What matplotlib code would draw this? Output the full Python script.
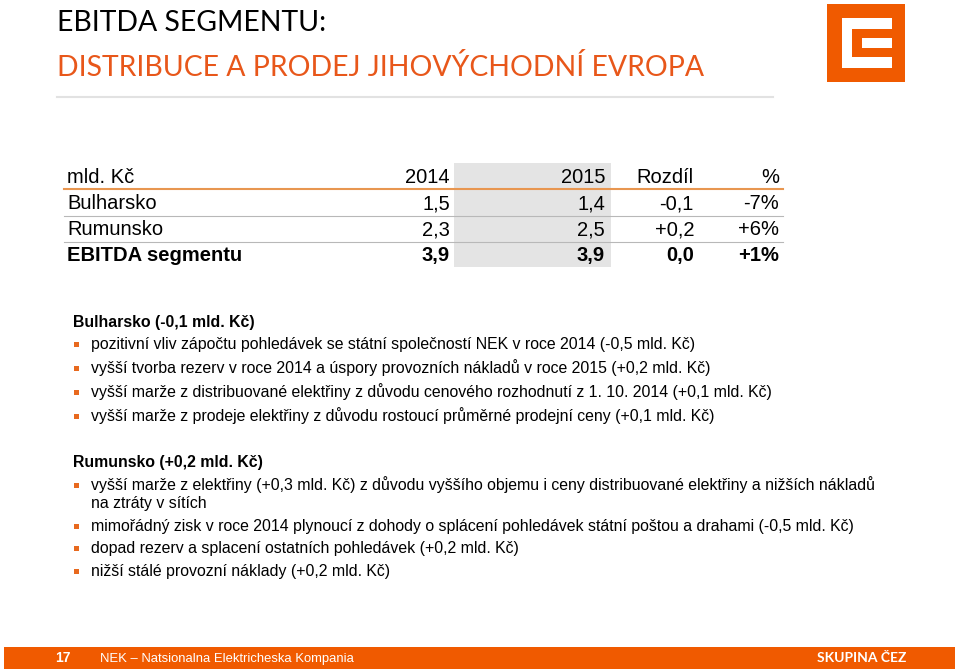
import matplotlib
matplotlib.use("Agg")
import matplotlib.pyplot as plt
from matplotlib.patches import Rectangle

# ── Colors ───────────────────────────────────────────────────────────────────
C_ORANGE      = "#f05a00"
C_TITLE_OR    = "#e8571a"
C_BULLET      = "#e8691e"
C_TABLE_LINE  = "#e89650"
C_SHADE       = "#e4e4e4"
C_ROWLINE     = "#b8b8b8"
C_RULE        = "#e2e2e2"
C_TEXT        = "#000000"

BODY = ["Liberation Sans", "DejaVu Sans"]
TITLE = ["Lato", "DejaVu Sans"]

# ── Data ─────────────────────────────────────────────────────────────────────
header = ["mld. Kč", "2014", "2015", "Rozdíl", "%"]
row_labels = ["Bulharsko", "Rumunsko", "EBITDA segmentu"]
vals_2014 = ["1,5", "2,3", "3,9"]
vals_2015 = ["1,4", "2,5", "3,9"]
diff = ["-0,1", "+0,2", "0,0"]
pct = ["-7%", "+6%", "+1%"]

bg_head = "Bulharsko (-0,1 mld. Kč)"
bg_items = [
    "pozitivní vliv zápočtu pohledávek se státní společností NEK v roce 2014 (-0,5 mld. Kč)",
    "vyšší tvorba rezerv v roce 2014 a úspory provozních nákladů v roce 2015 (+0,2 mld. Kč)",
    "vyšší marže z distribuované elektřiny z důvodu cenového rozhodnutí z 1. 10. 2014 (+0,1 mld. Kč)",
    "vyšší marže z prodeje elektřiny z důvodu rostoucí průměrné prodejní ceny (+0,1 mld. Kč)",
]
ro_head = "Rumunsko (+0,2 mld. Kč)"
ro_items = [
    "vyšší marže z elektřiny (+0,3 mld. Kč) z důvodu vyššího objemu i ceny distribuované elektřiny a nižších nákladů\nna ztráty v sítích",
    "mimořádný zisk v roce 2014 plynoucí z dohody o splácení pohledávek státní poštou a drahami (-0,5 mld. Kč)",
    "dopad rezerv a splacení ostatních pohledávek (+0,2 mld. Kč)",
    "nižší stálé provozní náklady (+0,2 mld. Kč)",
]

# ── Figure: one axes in pixel coordinates ────────────────────────────────────
fig = plt.figure(figsize=(9.6, 6.71), dpi=100, facecolor="white")
ax = fig.add_axes([0, 0, 1, 1])
ax.set_xlim(0, 960)
ax.set_ylim(671, 0)
ax.axis("off")

# ── Title ────────────────────────────────────────────────────────────────────
ax.text(57, 23, "EBITDA SEGMENTU:", fontsize=20.4, family=TITLE,
        color=C_TEXT, va="center", ha="left")
ax.text(57, 67, "DISTRIBUCE A PRODEJ JIHOVÝCHODNÍ EVROPA", fontsize=20.4,
        family=TITLE, color=C_TITLE_OR, va="center", ha="left")
ax.plot([57, 773], [97, 97], color=C_RULE, lw=1.5)

# logo
ax.add_patch(Rectangle((827, 4), 78, 78, color=C_ORANGE, lw=0))
ax.add_patch(Rectangle((842, 18), 50, 50, color="white", lw=0))
ax.add_patch(Rectangle((852, 29), 40, 28, color=C_ORANGE, lw=0))
ax.add_patch(Rectangle((862, 38), 30, 10, color="white", lw=0))

# ── Table ────────────────────────────────────────────────────────────────────
col_right = [None, 450, 605, 694, 779]
row_base = [209, 235, 261]
head_base = 183
ax.add_patch(Rectangle((454, 163), 157, 104, color=C_SHADE, lw=0, zorder=0))
ax.plot([64, 783], [189, 189], color=C_TABLE_LINE, lw=1.5)
for y in [216, 242]:
    ax.plot([64, 783], [y, y], color=C_ROWLINE, lw=0.8)

ax.text(67, head_base, header[0], fontsize=14.5, family=BODY,
        va="baseline", ha="left")
for j in range(1, 5):
    ax.text(col_right[j], head_base, header[j], fontsize=14.5, family=BODY,
            va="baseline", ha="right")

for i, lab in enumerate(row_labels):
    w = "bold" if i == len(row_labels) - 1 else "normal"
    ax.text(67, row_base[i], lab, fontsize=14.5, family=BODY, weight=w,
            va="baseline", ha="left")
    for j, col in enumerate([vals_2014, vals_2015, diff, pct], start=1):
        ax.text(col_right[j], row_base[i], col[i], fontsize=14.5, family=BODY,
                weight=w, va="baseline", ha="right")

# ── Bullets ──────────────────────────────────────────────────────────────────
def bullet_block(head, items, y_head, ys):
    ax.text(73, y_head, head, fontsize=11.4, family=BODY, weight="bold",
            va="baseline", ha="left")
    for txt, y in zip(items, ys):
        ax.add_patch(Rectangle((73.5, y - 7.5), 5, 5, color=C_BULLET, lw=0))
        lines = txt.split("\n")
        for k, line in enumerate(lines):
            ax.text(91, y + 18 * k, line, fontsize=11.4, family=BODY,
                    va="baseline", ha="left")

bullet_block(bg_head, bg_items, 327, [349, 373, 397, 421])
bullet_block(ro_head, ro_items, 467, [490, 531, 553, 576])

# ── Footer ───────────────────────────────────────────────────────────────────
ax.add_patch(Rectangle((4, 647), 951, 22, color=C_ORANGE, lw=0))
ax.text(55, 662, "17", fontsize=10, family=BODY, weight="bold",
        color="white", va="baseline", ha="left")
ax.text(100, 662, "NEK – Natsionalna Elektricheska Kompania", fontsize=9.4,
        family=BODY, color="white", va="baseline", ha="left")
ax.text(906, 662, "SKUPINA ČEZ", fontsize=10, family=TITLE, weight="bold",
        color="white", va="baseline", ha="right")

fig.savefig("out.png", dpi=100, facecolor="white")
